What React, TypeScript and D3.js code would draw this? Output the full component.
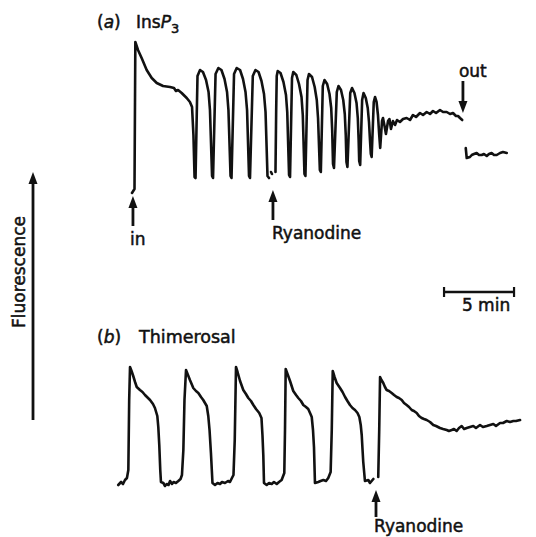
import * as d3 from "d3";

type Pt = [number, number];

// Time in min, fluorescence in arbitrary units.
// Panel (a): InsP3 perfusion
const insp3Before: Pt[] = [
  [1.07, 2], [1.25, 6], [1.31, 153], [1.5, 145], [1.76, 137], [2.12, 125], [2.48, 117],
  [2.84, 112], [3.29, 109], [3.79, 108], [4.07, 107], [4.21, 104], [4.36, 105], [4.62, 102],
  [4.98, 97], [5.21, 93], [5.36, 88], [5.46, 60], [5.54, 18], [5.61, 17],
  [5.75, 119], [5.93, 125], [6.14, 123], [6.36, 115], [6.54, 103], [6.64, 85], [6.79, 19], [6.86, 17],
  [7.04, 121], [7.24, 127], [7.46, 125], [7.68, 116], [7.86, 103], [7.96, 85], [8.11, 19], [8.18, 17],
  [8.36, 121], [8.55, 127], [8.79, 125], [9.0, 116], [9.18, 103], [9.29, 85], [9.43, 19], [9.5, 17],
  [9.7, 119], [9.89, 125], [10.11, 123], [10.32, 114], [10.5, 101], [10.61, 83], [10.75, 19], [10.86, 17],
];
const insp3Dot: Pt[] = [[11.0, 23], [11.07, 21]];
const insp3Ryanodine: Pt[] = [
  [11.32, 23], [11.37, 85], [11.41, 119], [11.48, 124], [11.68, 122], [11.89, 113], [12.07, 100],
  [12.16, 83], [12.29, 20], [12.36, 18],
  [12.5, 117], [12.59, 123], [12.81, 120], [13.0, 111], [13.18, 98], [13.27, 80], [13.39, 21], [13.46, 19],
  [13.61, 115], [13.71, 121], [13.93, 118], [14.12, 108], [14.27, 95], [14.36, 77], [14.49, 25], [14.56, 23],
  [14.7, 109], [14.82, 115], [15.01, 111], [15.18, 101], [15.3, 87], [15.37, 65], [15.43, 31], [15.5, 27],
  [15.7, 103], [15.82, 109], [16.0, 105], [16.16, 95], [16.27, 81], [16.34, 60], [16.39, 33], [16.46, 28],
  [16.66, 102], [16.79, 107], [16.96, 102], [17.11, 92], [17.2, 77], [17.26, 55], [17.3, 34], [17.37, 30],
  [17.51, 95], [17.61, 102], [17.77, 97], [17.91, 87], [18.0, 73], [18.07, 55], [18.13, 41], [18.19, 38],
  [18.34, 93], [18.43, 98], [18.54, 93], [18.64, 80], [18.73, 60], [18.8, 47],
  [18.93, 74], [19.0, 77], [19.11, 69], [19.21, 61], [19.36, 74], [19.46, 76], [19.57, 66],
  [19.71, 74], [19.86, 70], [20.0, 75], [20.21, 73], [20.43, 76], [20.69, 77], [20.93, 75],
  [21.14, 80], [21.36, 78], [21.64, 82], [21.86, 80], [22.12, 83], [22.36, 81], [22.57, 84],
  [22.79, 82], [23.07, 85], [23.29, 83], [23.55, 83], [23.79, 81], [24.0, 82], [24.21, 79],
  [24.36, 79], [24.5, 77], [24.66, 75],
];
const insp3After: Pt[] = [
  [24.91, 47], [24.98, 37], [25.21, 38], [25.34, 40], [25.5, 41], [25.69, 42], [25.86, 40],
  [26.05, 40], [26.21, 41], [26.41, 39], [26.57, 41], [26.76, 42], [26.93, 40], [27.12, 40],
  [27.36, 42], [27.57, 43], [27.84, 42],
];

// Panel (b): thimerosal
const thimerosal: Pt[] = [
  [0.09, 10], [0.29, 13], [0.43, 11], [0.57, 15], [0.71, 17], [0.81, 25], [0.87, 95], [0.93, 128],
  [1.04, 124], [1.16, 119], [1.29, 113], [1.41, 108], [1.64, 105], [1.82, 103], [2.0, 100],
  [2.36, 95], [2.57, 91], [2.71, 87], [2.88, 79], [2.95, 68], [3.02, 50], [3.09, 25], [3.14, 13],
  [3.31, 12], [3.43, 9], [3.55, 11], [3.68, 10], [3.79, 14], [3.93, 11], [4.04, 13], [4.21, 12],
  [4.38, 14], [4.54, 16], [4.64, 20], [4.74, 45], [4.82, 95], [4.93, 125],
  [5.07, 120], [5.21, 115], [5.45, 107], [5.64, 104], [5.81, 102], [6.0, 98], [6.16, 95],
  [6.41, 89], [6.52, 79], [6.61, 65], [6.71, 42], [6.82, 12],
  [7.0, 10], [7.18, 12], [7.36, 11], [7.5, 13], [7.71, 12], [7.93, 14], [8.07, 13], [8.21, 17],
  [8.32, 20], [8.41, 55], [8.5, 128],
  [8.61, 123], [8.79, 114], [9.02, 105], [9.21, 101], [9.38, 97], [9.57, 94], [9.74, 90],
  [9.93, 86], [10.16, 82], [10.32, 77], [10.39, 60], [10.45, 40], [10.5, 12],
  [10.69, 10], [10.86, 12], [11.05, 11], [11.21, 13], [11.41, 11], [11.57, 13], [11.76, 15],
  [11.95, 22], [12.0, 65], [12.05, 126],
  [12.18, 121], [12.36, 114], [12.59, 104], [12.79, 100], [12.95, 97], [13.14, 94], [13.31, 90],
  [13.5, 88], [13.66, 86], [13.82, 81], [13.91, 78], [14.0, 65], [14.07, 48], [14.14, 12],
  [14.38, 13], [14.54, 14], [14.74, 15], [14.93, 14], [15.09, 17], [15.26, 23], [15.34, 65], [15.41, 124],
  [15.54, 118], [15.69, 112], [15.93, 107], [16.11, 103], [16.29, 98], [16.46, 94], [16.64, 90],
  [16.82, 87], [17.0, 85], [17.18, 82], [17.31, 78], [17.41, 70], [17.48, 60], [17.54, 45],
  [17.59, 33], [17.71, 14], [17.95, 15], [18.07, 12], [18.19, 14], [18.31, 16],
];
const thimerosalRyanodine: Pt[] = [
  [18.66, 18], [18.73, 65], [18.79, 118], [18.89, 115], [19.02, 112], [19.14, 108], [19.26, 105],
  [19.43, 104], [19.62, 102], [19.79, 100], [19.98, 98], [20.14, 97], [20.34, 95], [20.5, 92],
  [20.69, 90], [20.86, 88], [21.05, 85], [21.21, 84], [21.41, 82], [21.57, 79], [21.76, 77],
  [21.93, 76], [22.12, 75], [22.36, 73], [22.59, 70], [22.79, 69], [23.07, 67], [23.29, 66],
  [23.55, 65], [23.71, 64], [23.91, 65], [24.07, 66], [24.26, 64], [24.43, 67], [24.62, 69],
  [24.79, 66], [24.98, 67], [25.21, 68], [25.45, 69], [25.64, 67], [25.93, 70], [26.14, 68],
  [26.41, 69], [26.64, 70], [26.88, 71], [27.07, 69], [27.36, 72], [27.57, 72], [27.84, 74],
  [28.07, 73], [28.31, 74], [28.5, 74], [28.79, 75],
];

// event markers (min)
const IN_T = 1.14;
const RYAN_A_T = 11.14;
const OUT_T = 24.71;
const RYAN_B_T = 18.5;
const SCALE_START = 23.36;
const SCALE_LEN = 5;

const INK = "#111";
const FONT = "DejaVu Sans, Arial, sans-serif";

const x = d3.scaleLinear().domain([0, 30]).range([117, 537]);
const yA = d3.scaleLinear().domain([0, 160]).range([195, 35]);
const yB = d3.scaleLinear().domain([0, 160]).range([495, 335]);

const lineA = d3.line<Pt>().x((d) => x(d[0])).y((d) => yA(d[1]));
const lineB = d3.line<Pt>().x((d) => x(d[0])).y((d) => yB(d[1]));

// vertical arrow, tip at y1, tail at y2
const Arrow = ({ cx, y1, y2 }: { cx: number; y1: number; y2: number }) => {
  const s = y2 > y1 ? 1 : -1;
  return (
    <g>
      <line x1={cx} x2={cx} y1={y1 + s * 8} y2={y2} stroke={INK} strokeWidth={2.8} />
      <path d={`M${cx},${y1}L${cx - 4.5},${y1 + s * 12}L${cx + 4.5},${y1 + s * 12}Z`} fill={INK} />
    </g>
  );
};

export default function App() {
  const traceProps = {
    fill: "none",
    stroke: INK,
    strokeWidth: 2.6,
    strokeLinejoin: "round" as const,
    strokeLinecap: "round" as const,
  };
  // slight stroke to thicken the glyphs like the printed figure
  const txt = { fontFamily: FONT, fontSize: 17, fill: INK, stroke: INK, strokeWidth: 0.5 };
  const sx0 = x(SCALE_START);
  const sx1 = x(SCALE_START + SCALE_LEN);

  return (
    <div style={{ position: "absolute", left: 0, top: 0 }}>
      <svg width={536} height={537} style={{ display: "block", background: "#fff" }}>
        {/* panel a */}
        <text x={97} y={28} {...txt}>
          (<tspan fontStyle="italic">a</tspan>)
        </text>
        <text x={136} y={28} {...txt}>
          Ins<tspan fontStyle="italic">P</tspan>
          <tspan dy={5} fontSize={13}>3</tspan>
        </text>
        <path d={lineA(insp3Before) ?? ""} {...traceProps} />
        <path d={lineA(insp3Dot) ?? ""} {...traceProps} />
        <path d={lineA(insp3Ryanodine) ?? ""} {...traceProps} />
        <path d={lineA(insp3After) ?? ""} {...traceProps} />

        <Arrow cx={x(IN_T)} y1={196} y2={226} />
        <text x={x(IN_T) - 3} y={245} {...txt}>in</text>
        <Arrow cx={x(RYAN_A_T)} y1={190} y2={220} />
        <text x={x(RYAN_A_T) - 1} y={239} {...txt}>Ryanodine</text>
        <Arrow cx={x(OUT_T)} y1={113} y2={81} />
        <text x={x(OUT_T) - 4} y={77} {...txt}>out</text>

        {/* scale bar */}
        <line x1={sx0} x2={sx1} y1={292} y2={292} stroke={INK} strokeWidth={2.4} />
        <line x1={sx0} x2={sx0} y1={287} y2={297} stroke={INK} strokeWidth={2.2} />
        <line x1={sx1} x2={sx1} y1={287} y2={297} stroke={INK} strokeWidth={2.2} />
        <text x={(sx0 + sx1) / 2 + 7} y={311} textAnchor="middle" {...txt}>5 min</text>

        {/* fluorescence axis */}
        <Arrow cx={33} y1={172} y2={420} />
        <text transform="translate(25,272) rotate(-90)" textAnchor="middle" {...txt}>
          Fluorescence
        </text>

        {/* panel b */}
        <text x={97} y={343} {...txt}>
          (<tspan fontStyle="italic">b</tspan>)
        </text>
        <text x={139} y={343} {...txt} fontSize={17.5}>Thimerosal</text>
        <path d={lineB(thimerosal) ?? ""} {...traceProps} />
        <path d={lineB(thimerosalRyanodine) ?? ""} {...traceProps} />
        <Arrow cx={x(RYAN_B_T)} y1={490} y2={517} />
        <text x={x(RYAN_B_T) - 2} y={532} {...txt}>Ryanodine</text>
      </svg>
    </div>
  );
}
